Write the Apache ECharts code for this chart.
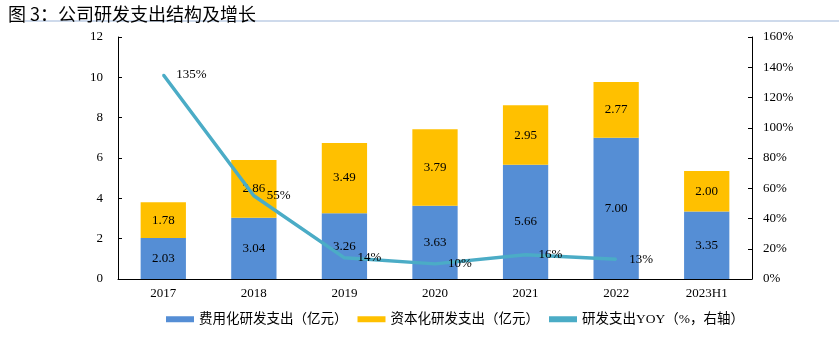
<!DOCTYPE html>
<html><head><meta charset="utf-8">
<script src="https://cdn.jsdelivr.net/npm/echarts@6/dist/echarts.min.js"></script>
<style>html,body{margin:0;padding:0;background:#fff}#c{width:839px;height:358px}</style>
</head><body><div id="c"></div>
<script>
const categories = ['2017','2018','2019','2020','2021','2022','2023H1'];
const expensed = [2.03, 3.04, 3.26, 3.63, 5.66, 7.00, 3.35];
const capitalized = [1.78, 2.86, 3.49, 3.79, 2.95, 2.77, 2.00];
const yoy = [135, 55, 14, 10, 16, 13, null];
const leftTicks = [0, 12, 2];
const rightTicks = [0, 160, 20];

const serif = '"Liberation Serif","Times New Roman",serif';
const cjk = '"Liberation Serif","Noto Sans CJK SC",serif';
const chart = echarts.init(document.getElementById('c'));
chart.setOption({
  animation: false,
  title: {
    text: '图 3：公司研发支出结构及增长', left: 3, top: 0,
    textStyle: {fontFamily: '"Noto Sans CJK SC",sans-serif', fontSize: 18, fontWeight: 'normal', color: '#000'}
  },
  graphic: [{type: 'line', shape: {x1: 25, y1: 21, x2: 839, y2: 21}, style: {stroke: '#9DB5D8', lineWidth: 1}}],
  grid: {left: 118, right: 87, top: 37, bottom: 79},
  legend: {
    bottom: 27, left: 161, itemGap: 10, itemWidth: 28, itemHeight: 6,
    textStyle: {fontFamily: cjk, fontSize: 13.5, color: '#000'},
    data: [
      {name: '费用化研发支出（亿元）', icon: 'rect'},
      {name: '资本化研发支出（亿元）', icon: 'rect'},
      {name: '研发支出YOY（%，右轴）', icon: 'rect'}
    ]
  },
  xAxis: {
    type: 'category', data: categories,
    axisLine: {lineStyle: {color: '#000'}},
    axisTick: {inside: true, length: 5, lineStyle: {color: '#000'}},
    axisLabel: {fontFamily: serif, fontSize: 13, color: '#000', margin: 8}
  },
  yAxis: [
    {type: 'value', min: leftTicks[0], max: leftTicks[1], interval: leftTicks[2],
     splitLine: {show: false},
     axisLine: {show: true, lineStyle: {color: '#000'}},
     axisTick: {show: true, inside: true, length: 4, lineStyle: {color: '#000'}},
     axisLabel: {fontFamily: serif, fontSize: 13, color: '#000', margin: 15}},
    {type: 'value', min: rightTicks[0], max: rightTicks[1], interval: rightTicks[2],
     splitLine: {show: false},
     axisLine: {show: true, lineStyle: {color: '#000'}},
     axisTick: {show: true, inside: true, length: 4, lineStyle: {color: '#000'}},
     axisLabel: {fontFamily: serif, fontSize: 13, color: '#000', margin: 11, formatter: '{value}%'}}
  ],
  series: [
    {name: '费用化研发支出（亿元）', type: 'bar', stack: 's', data: expensed, barWidth: '50%',
     itemStyle: {color: '#558ED5'},
     label: {show: true, position: 'inside', fontFamily: serif, fontSize: 13, color: '#000', formatter: p => p.value.toFixed(2)}},
    {name: '资本化研发支出（亿元）', type: 'bar', stack: 's', data: capitalized, barWidth: '50%',
     itemStyle: {color: '#FFC000'},
     label: {show: true, position: 'inside', fontFamily: serif, fontSize: 13, color: '#000', formatter: p => p.value.toFixed(2)}},
    {name: '研发支出YOY（%，右轴）', type: 'line', yAxisIndex: 1, data: yoy,
     symbol: 'circle', symbolSize: 2, showSymbol: true,
     lineStyle: {color: '#4BACC6', width: 3.5}, itemStyle: {color: '#4BACC6'},
     label: {show: true, position: 'right', distance: 12, fontFamily: serif, fontSize: 13, color: '#000', formatter: '{c}%'}}
  ]
});
</script></body></html>
